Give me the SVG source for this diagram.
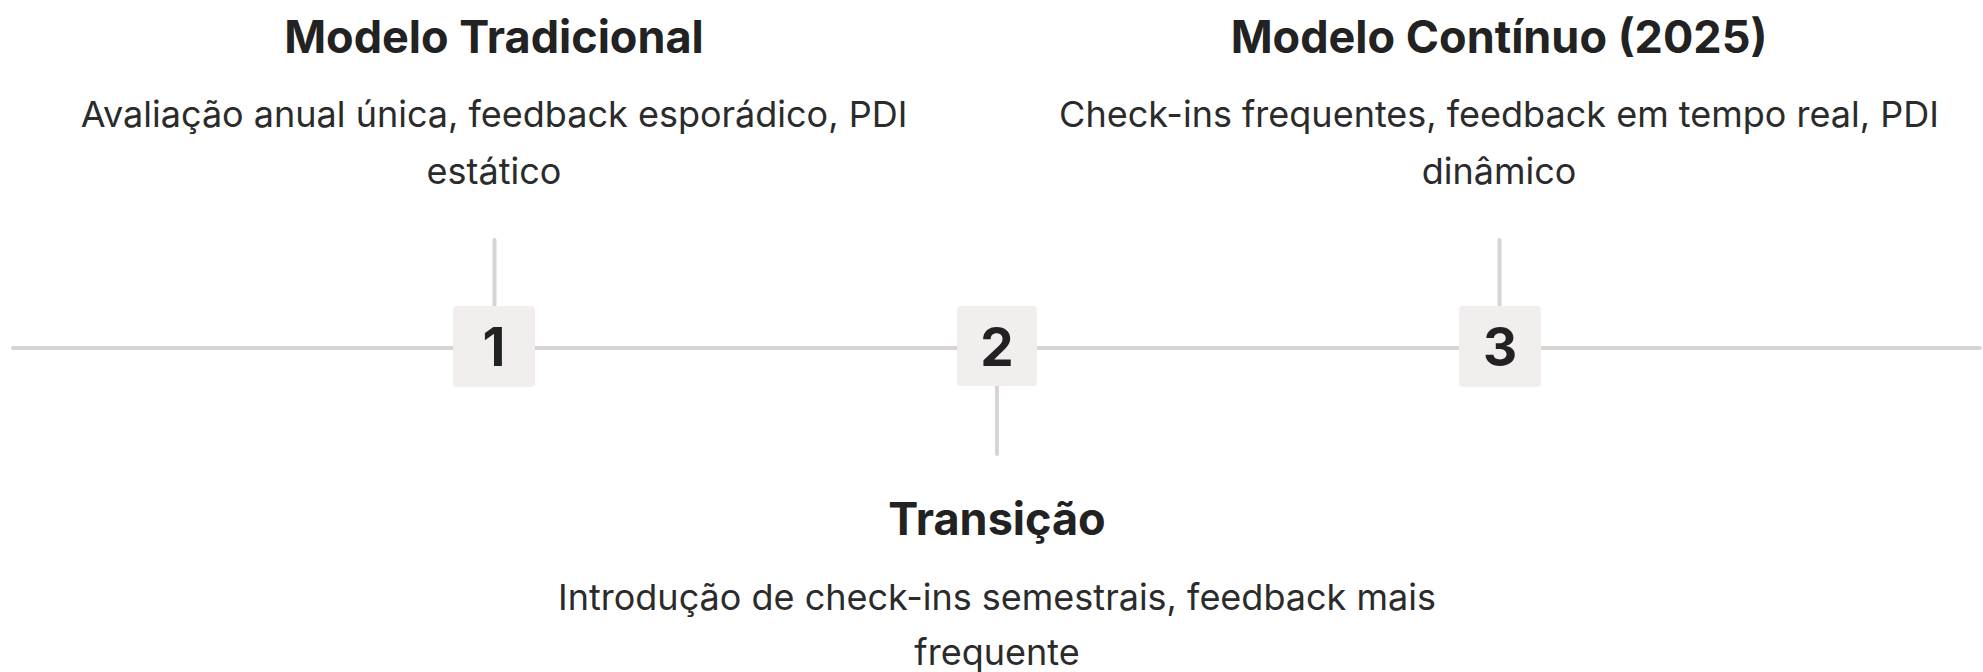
<svg xmlns="http://www.w3.org/2000/svg" width="1983" height="672" viewBox="0 0 1983 672">
<style>
.title{font-family:Inter,"Noto Sans",sans-serif;font-weight:700;font-size:45px;fill:#222222;text-anchor:middle}
.desc{font-family:Inter,"Noto Sans",sans-serif;font-weight:400;font-size:36px;fill:#2b2b2b;text-anchor:middle}
.num{font-family:Inter,"Noto Sans",sans-serif;font-weight:700;font-size:53px;fill:#222222;text-anchor:middle}
.box{fill:#F1EEED}
.ln{stroke:#D8D4D2;stroke-width:4;stroke-linecap:round;fill:none}
</style>
<rect width="1983" height="672" fill="#ffffff"/>
<g id="connectors">
<line class="ln" x1="13" y1="348" x2="1980" y2="348"/>
<line class="ln" x1="494.5" y1="240" x2="494.5" y2="306"/>
<line class="ln" x1="997" y1="386" x2="997" y2="454"/>
<line class="ln" x1="1499.5" y1="240" x2="1499.5" y2="306"/>
</g>
<g id="node1">
<rect class="box" x="453" y="306" width="82" height="81" rx="4"/>
<text class="num" x="494" y="366">1</text>
<text class="title" x="494" y="53">Modelo Tradicional</text>
<text class="desc" x="494" y="127">Avaliação anual única, feedback esporádico, PDI</text>
<text class="desc" x="494" y="184">estático</text>
</g>
<g id="node2">
<rect class="box" x="957" y="306" width="80" height="80" rx="4"/>
<text class="num" x="997" y="366">2</text>
<text class="title" x="997" y="535">Transição</text>
<text class="desc" x="997" y="610">Introdução de check-ins semestrais, feedback mais</text>
<text class="desc" x="997" y="665">frequente</text>
</g>
<g id="node3">
<rect class="box" x="1459" y="306" width="82" height="81" rx="4"/>
<text class="num" x="1500" y="366">3</text>
<text class="title" x="1499" y="53">Modelo Contínuo (2025)</text>
<text class="desc" x="1499" y="127">Check-ins frequentes, feedback em tempo real, PDI</text>
<text class="desc" x="1499" y="184">dinâmico</text>
</g>
</svg>
